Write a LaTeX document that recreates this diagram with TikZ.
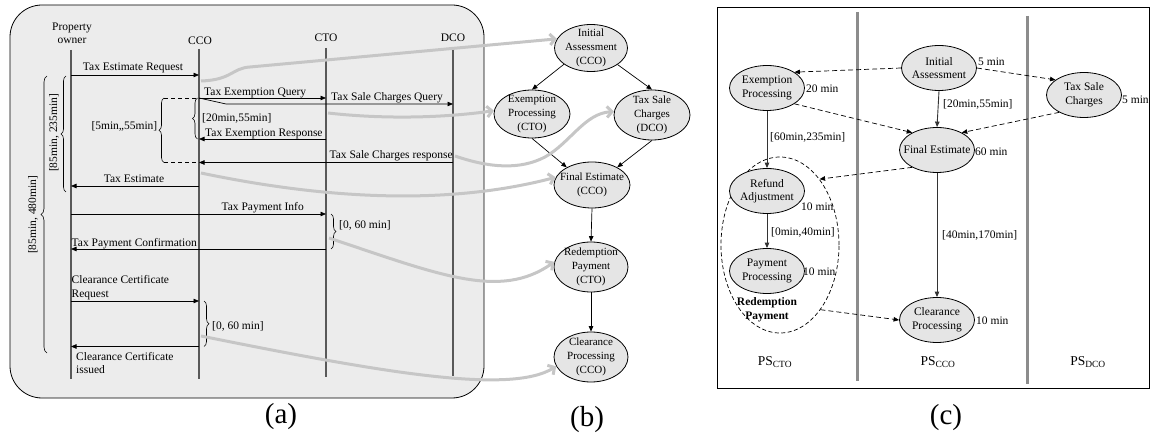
\documentclass[tikz,border=0pt]{standalone}
\usepackage{fontspec}
\setmainfont{Liberation Serif}
\usetikzlibrary{arrows.meta,shapes.geometric,decorations.pathreplacing}

\begin{document}
\begin{tikzpicture}[x=1pt,y=-1pt,
  seqtxt/.style={inner sep=0pt, font=\fontsize{11.5}{13.5}\selectfont},
  life/.style={draw=black!65, line width=1.2pt},
  msg/.style={draw=black, line width=0.7pt, -{Triangle[length=5.5pt,width=4.5pt]}},
  brc/.style={draw=black, line width=0.6pt, decorate, decoration={brace, amplitude=5pt}},
  guide/.style={draw=black, line width=0.7pt, dash pattern=on 4pt off 3pt},
  gflow/.style={draw=gray!45, line width=3pt, -{Straight Barb[length=5pt,width=11pt]}},
  bnode/.style={ellipse, draw=black, line width=0.8pt, fill=gray!20, inner sep=-8pt, align=center, font=\fontsize{11}{14}\selectfont},
  bedge/.style={draw=black, line width=0.7pt, -{Triangle[length=5.5pt,width=4.5pt]}},
  cnode/.style={ellipse, draw=black, line width=0.8pt, fill=gray!20, inner sep=-8pt, minimum width=75pt, minimum height=45pt, align=center, font=\fontsize{11.5}{13.5}\selectfont},
  csolid/.style={draw=black!80, line width=0.9pt, -{Triangle[length=5.5pt,width=4.5pt]}},
  cdash/.style={draw=black, line width=0.7pt, dash pattern=on 5pt off 3pt, -{Triangle[length=5.5pt,width=4.5pt]}},
  lanesep/.style={draw=black!45, line width=3pt},
  panelcap/.style={inner sep=0pt, font=\fontsize{29}{32}\selectfont},
]
\useasboundingbox (0,0) rectangle (1151,438);

% ---------------- (a) sequence of messages ----------------
\draw[fill=gray!15, line width=0.8pt, rounded corners=32pt] (10,5) rectangle (484,398);

% lifelines
\coordinate (poT) at (71,50);   \coordinate (poB) at (71,379);
\coordinate (ccoT) at (199,49); \coordinate (ccoB) at (199,379);
\coordinate (ctoT) at (326,48); \coordinate (ctoB) at (326,377);
\coordinate (dcoT) at (453,50); \coordinate (dcoB) at (453,376);
\draw[life] (poT) -- (poB);
\draw[life] (ccoT) -- (ccoB);
\draw[life] (ctoT) -- (ctoB);
\draw[life] (dcoT) -- (dcoB);

\node[seqtxt, align=center] (hPO) at (72,33.5) {Property\\owner};
\node[seqtxt, anchor=base] (hCCO) at (200,45) {CCO};
\node[seqtxt, anchor=base] (hCTO) at (326,41.5) {CTO};
\node[seqtxt, anchor=base] (hDCO) at (453,41.5) {DCO};

% messages
\coordinate (m1a) at (71,75);    \coordinate (m1b) at (199,75);
\coordinate (m2a) at (199,98);   \coordinate (m2b) at (326,98);
\coordinate (m3k) at (226,104);  \coordinate (m3b) at (453,104);
\coordinate (m4a) at (326,139);  \coordinate (m4b) at (199,139);
\coordinate (m5a) at (453,162.5);\coordinate (m5b) at (199,162.5);
\coordinate (m6a) at (199,186);  \coordinate (m6b) at (71,186);
\coordinate (m7a) at (71,214);   \coordinate (m7b) at (326,214);
\coordinate (m8a) at (326,249);  \coordinate (m8b) at (71,249);
\coordinate (m9a) at (71,301);   \coordinate (m9b) at (199,301);
\coordinate (m10a) at (199,346.5); \coordinate (m10b) at (71,346.5);

\draw[msg] (m1a) -- (m1b);
\draw[msg] (m2a) -- (m2b);
\draw[msg] (m2a) -- (m3k) -- (m3b);
\draw[msg] (m4a) -- (m4b);
\draw[msg] (m5a) -- (m5b);
\draw[msg] (m6a) -- (m6b);
\draw[msg] (m7a) -- (m7b);
\draw[msg] (m8a) -- (m8b);
\draw[msg] (m9a) -- (m9b);
\draw[msg] (m10a) -- (m10b);

\node[seqtxt, anchor=base] (l1) at (133,71) {Tax Estimate Request};
\node[seqtxt, anchor=base west] (l2) at (204,95.5) {Tax Exemption Query};
\node[seqtxt, anchor=base west] (l3) at (331,101) {Tax Sale Charges Query};
\node[seqtxt, anchor=base west] (l4) at (205,136.5) {Tax Exemption Response};
\node[seqtxt, anchor=base east] (l5) at (453,159) {Tax Sale Charges response};
\node[seqtxt, anchor=base] (l6) at (134,182.5) {Tax Estimate};
\node[seqtxt, anchor=base east] (l7) at (304,211) {Tax Payment Info};
\node[seqtxt, anchor=base west] (l8) at (71.5,246.5) {Tax Payment Confirmation};
\node[seqtxt, anchor=south west, align=left] (l9) at (71.5,300) {Clearance Certificate\\Request};
\node[seqtxt, anchor=north west, align=left] (l10) at (76,352) {Clearance Certificate\\issued};

% time braces
\coordinate (br1t) at (197.5,98);  \coordinate (br1b) at (197.5,139);
\draw[brc] (br1b) -- (br1t);
\node[seqtxt, anchor=base west] (t1) at (202,121.5) {[20min,55min]};

\coordinate (br2t) at (164,98);  \coordinate (br2b) at (164,162.5);
\draw[brc] (br2b) -- (br2t);
\draw[guide] (br2t) -- (m2a);
\draw[guide] (br2b) -- (m5b);
\node[seqtxt, anchor=base east] (t2) at (157.5,130) {[5min,,55min]};

\coordinate (br3t) at (66,76);  \coordinate (br3b) at (66,192);
\draw[brc] (br3b) -- (br3t);
\node[seqtxt, rotate=90] (t3) at (54,133) {[85min, 235min]};

\coordinate (br4t) at (47,76);  \coordinate (br4b) at (47,353);
\draw[brc, decoration={brace, amplitude=6pt}] (br4b) -- (br4t);
\node[seqtxt, rotate=90] (t4) at (33,215) {[85min, 480min]};

\coordinate (br5t) at (331,214);  \coordinate (br5b) at (331,249);
\draw[brc] (br5t) -- (br5b);
\node[seqtxt, anchor=base west] (t5) at (339,229) {[0, 60 min]};

\coordinate (br6t) at (204,301);  \coordinate (br6b) at (204,346.5);
\draw[brc] (br6t) -- (br6b);
\node[seqtxt, anchor=base west] (t6) at (212,330) {[0, 60 min]};

% ---------------- (b) task graph ----------------
\node[bnode, minimum width=73pt, minimum height=47pt] (bIA) at (591,48) {Initial\\Assessment\\(CCO)};
\node[bnode, minimum width=76pt, minimum height=48pt] (bEP) at (532,114) {Exemption\\Processing\\(CTO)};
\node[bnode, minimum width=76pt, minimum height=50pt] (bTSC) at (652,115) {Tax Sale\\Charges\\(DCO)};
\node[bnode, minimum width=76pt, minimum height=46pt] (bFE) at (592,185) {Final Estimate\\(CCO)};
\node[bnode, minimum width=74pt, minimum height=50pt] (bRP) at (591,267) {Redemption\\Payment\\(CTO)};
\node[bnode, minimum width=74pt, minimum height=50pt] (bCP) at (591,357) {Clearance\\Processing\\(CCO)};

\draw[bedge] (bIA.211) -- (bEP.north);
\draw[bedge] (bIA.-32) -- (bTSC.north);
\draw[bedge] (bEP.south) -- (bFE.145);
\draw[bedge] (bTSC.south) -- (bFE.35);
\draw[bedge] (bFE.south) -- (bRP.north);
\draw[bedge] (bRP.south) -- (bCP.north);

% correspondence between messages and tasks
\coordinate (g1) at (201,81);
\coordinate (g2) at (328,113);
\coordinate (g3) at (455,156);
\coordinate (g4) at (201,173);
\coordinate (g5) at (329,238);
\coordinate (g6) at (201,336);
\draw[gflow] (g1) .. controls (232,80) and (232,68) .. (250,67) -- (bIA.165);
\draw[gflow] (g2) .. controls (390,120) and (450,117) .. (bEP.175);
\draw[gflow] (g3) .. controls (490,168) and (520,170) .. (545,157) .. controls (570,143) and (585,113) .. (bTSC.175);
\draw[gflow] (g4) .. controls (330,200) and (450,205) .. (bFE.168);
\draw[gflow] (g5) .. controls (440,275) and (500,300) .. (bRP.172);
\draw[gflow] (g6) .. controls (380,372) and (510,395) .. (bCP.195);

% ---------------- (c) partitioned schedule ----------------
\draw[line width=0.8pt] (717,7) rectangle (1149,388);
\coordinate (s1t) at (857,12);  \coordinate (s1b) at (857,381);
\coordinate (s2t) at (1027,16); \coordinate (s2b) at (1027,384);
\draw[lanesep] (s1t) -- (s1b);
\draw[lanesep] (s2t) -- (s2b);

\node[ellipse, draw=black, line width=0.7pt, dash pattern=on 4pt off 2.5pt,
      minimum width=118pt, minimum height=176pt, inner sep=0pt] (grp) at (780,245) {};

\node[cnode] (cIA) at (939,68) {Initial\\Assessment};
\node[cnode] (cEP) at (767,88) {Exemption\\Processing};
\node[cnode] (cTSC) at (1084,95) {Tax Sale\\Charges};
\node[cnode] (cFE) at (937,150) {Final Estimate};
\node[cnode] (cRA) at (767,191) {Refund\\Adjustment};
\node[cnode] (cPP) at (767,271) {Payment\\Processing};
\node[cnode] (cCP) at (937,320) {Clearance\\Processing};

\draw[cdash] (cIA.180) -- (cEP.30);
\draw[cdash] (cIA.0) -- (cTSC.152);
\draw[csolid] (cIA.south) -- (cFE.north);
\draw[cdash] (cEP.-30) -- (cFE.145);
\draw[cdash] (cTSC.-145) -- (cFE.35);
\draw[csolid] (cEP.south) -- (cRA.north);
\draw[cdash] (cFE.-145) -- (grp.59);
\draw[csolid] (cRA.south) -- (cPP.north);
\draw[csolid] (cFE.south) -- (cCP.north);
\draw[cdash] (grp.-58) -- (cCP.west);

% durations
\node[seqtxt, anchor=west] (dIA) at (978,62) {5 min};
\node[seqtxt, anchor=west] (dEP) at (806,89) {20 min};
\node[seqtxt, anchor=west] (dTSC) at (1122,100) {5 min};
\node[seqtxt, anchor=west] (dFE) at (975,152) {60 min};
\node[seqtxt, anchor=west] (dRA) at (801,207) {10 min};
\node[seqtxt, anchor=west] (dPP) at (803,272) {10 min};
\node[seqtxt, anchor=west] (dCP) at (976,321) {10 min};

% delays on edges
\node[seqtxt, anchor=west] (eIAFE) at (943,104) {[20min,55min]};
\node[seqtxt, anchor=west] (eEPRA) at (770,137) {[60min,235min]};
\node[seqtxt, anchor=west] (eRAPP) at (771,232) {[0min,40min]};
\node[seqtxt, anchor=west] (eFECP) at (942,235) {[40min,170min]};

\node[seqtxt, font=\fontsize{11.5}{14}\selectfont\bfseries, align=center] (grpl) at (767,310) {Redemption\\Payment};

\node[seqtxt, anchor=base, font=\fontsize{13.5}{15}\selectfont] (ps1) at (775,365) {PS\textsubscript{CTO}};
\node[seqtxt, anchor=base, font=\fontsize{13.5}{15}\selectfont] (ps2) at (938,365) {PS\textsubscript{CCO}};
\node[seqtxt, anchor=base, font=\fontsize{13.5}{15}\selectfont] (ps3) at (1088,365) {PS\textsubscript{DCO}};

% panel captions
\node[panelcap] (capA) at (281,417) {(a)};
\node[panelcap] (capB) at (587,420) {(b)};
\node[panelcap] (capC) at (946,418) {(c)};
\end{tikzpicture}
\end{document}
